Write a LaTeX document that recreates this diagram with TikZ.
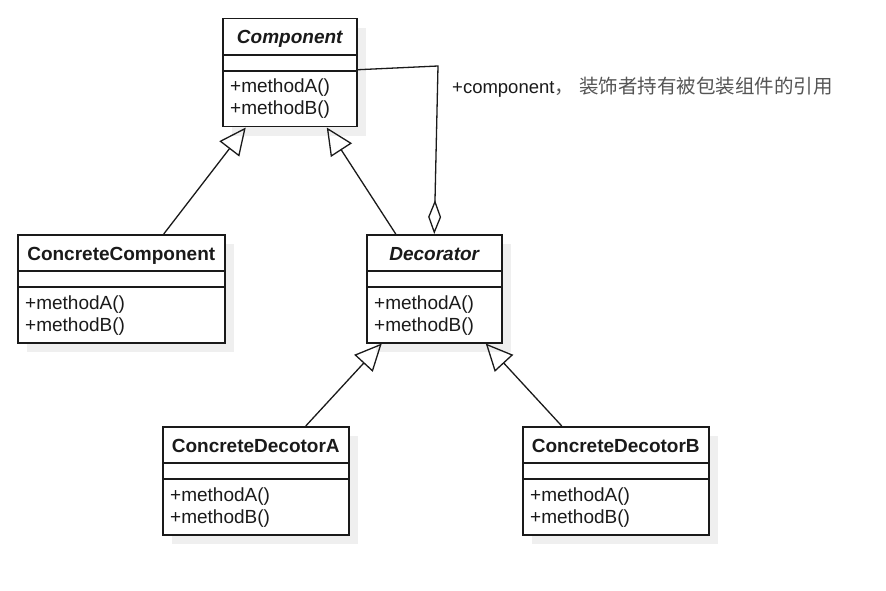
\documentclass[tikz,border=0pt]{standalone}
\usepackage{fontspec}
\setmainfont{Liberation Sans}
\newfontfamily\cjkfont{Noto Sans CJK SC}
\usetikzlibrary{arrows.meta}
\definecolor{inkc}{HTML}{1A1A1A}
\definecolor{shadowc}{HTML}{EFEFEF}
\definecolor{notec}{HTML}{555555}
\tikzset{
  classbox/.style={draw=inkc, line width=1.5pt, fill=white, rectangle,
    minimum height=108pt, inner sep=0pt},
  classline/.style={draw=inkc, line width=1.5pt},
  titletext/.style={inner sep=0pt, text=inkc, font=\fontsize{19}{22}\selectfont\bfseries},
  methodtext/.style={inner sep=0pt, text=inkc, font=\fontsize{19}{22}\selectfont},
  gen/.style={draw=inkc, line width=1.3pt, -{Triangle[open, length=27pt, width=25pt]}},
  agg/.style={draw=inkc, line width=1.3pt, {Diamond[open, length=34pt, width=13pt]}-},
}
% one UML class: name, left x, top y, width, title
\newcommand\umlclass[5]{%
  \fill[shadowc] ({#2+10},{#3+10}) rectangle ++(#4,108);
  \node[classbox, minimum width=#4pt, anchor=north west] (#1) at (#2,#3) {};
  \draw[classline] ([yshift=-37pt]#1.north west) -- ([yshift=-37pt]#1.north east);
  \draw[classline] ([yshift=-53pt]#1.north west) -- ([yshift=-53pt]#1.north east);
  \node[titletext, anchor=base] (#1-title) at ([yshift=-26pt]#1.north) {#5};
  \node[methodtext, anchor=base west] (#1-ma) at ([xshift=8pt,yshift=-75pt]#1.north west) {+methodA()};
  \node[methodtext, anchor=base west] (#1-mb) at ([xshift=8pt,yshift=-97pt]#1.north west) {+methodB()};
}
\begin{document}
\begin{tikzpicture}[x=1pt, y=-1pt]
  \useasboundingbox[fill=white] (0,0) rectangle (886,591);

  \umlclass{comp}{222}{18}{134}{\itshape Component}
  \umlclass{cc}{17}{234}{207}{ConcreteComponent}
  \umlclass{dec}{366}{234}{135}{\itshape Decorator}
  \umlclass{cda}{162}{426}{186}{ConcreteDecotorA}
  \umlclass{cdb}{522}{426}{186}{ConcreteDecotorB}

  % generalisations
  \draw[gen] ([xshift=42.5pt]cc.north) -- ([xshift=-44pt]comp.south);
  \draw[gen] ([xshift=-38.5pt]dec.north) -- ([xshift=37pt]comp.south);
  \draw[gen] ([xshift=50pt]cda.north) -- ([xshift=-52.5pt]dec.south);
  \draw[gen] ([xshift=-54pt]cdb.north) -- ([xshift=51.5pt]dec.south);

  % aggregation: the decorator holds its component
  \coordinate (aggbend) at (438,66);
  \draw[agg] (dec.north) -- (aggbend) -- ([yshift=3pt]comp.east);

  \node[anchor=base west, inner sep=0pt] (note) at (452,94)
    {\fontsize{18.5}{20}\selectfont\color{inkc}+component\cjkfont\fontsize{19.5}{22}\selectfont\color{notec}，\hspace{5pt}装饰者持有被包装组件的引用};
\end{tikzpicture}
\end{document}
